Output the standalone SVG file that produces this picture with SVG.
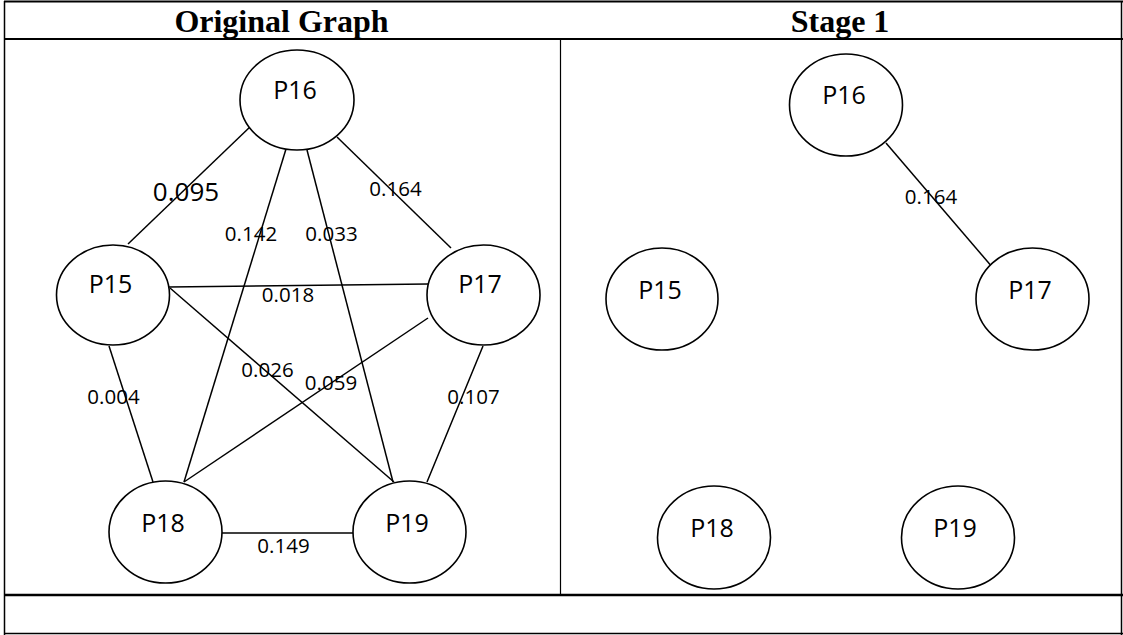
<svg xmlns="http://www.w3.org/2000/svg" width="1123" height="635" viewBox="0 0 1123 635">
<style>
.frame{fill:none;stroke:#000;}
.node ellipse{fill:#fff;stroke:#000;stroke-width:1.6;}
.node text{font-family:"Open Sans","Liberation Sans",sans-serif;font-size:25px;text-anchor:middle;fill:#000;}
.edges line{stroke:#000;stroke-width:1.5;}
.lbl{font-family:"Open Sans","Liberation Sans",sans-serif;font-size:20.5px;text-anchor:middle;fill:#000;}
.title{font-family:"Liberation Serif","Times New Roman",serif;font-weight:bold;font-size:32px;text-anchor:middle;fill:#000;}
</style>
<rect width="1123" height="635" fill="#fff"/>
<g id="table">
<line class="frame" x1="4.5" y1="1" x2="4.5" y2="635" stroke-width="1.5"/>
<line class="frame" x1="4" y1="1.5" x2="1123" y2="1.5" stroke-width="2"/>
<line class="frame" x1="4" y1="39" x2="1123" y2="39" stroke-width="2"/>
<line class="frame" x1="4" y1="595" x2="1123" y2="595" stroke-width="2.5"/>
<line class="frame" x1="4" y1="633.5" x2="1123" y2="633.5" stroke-width="1.5"/>
<line class="frame" x1="560.5" y1="39" x2="560.5" y2="595" stroke-width="1.2"/>
<line class="frame" x1="1121.5" y1="1" x2="1121.5" y2="635" stroke-width="1.5"/>
<text class="title" x="281.5" y="32">Original Graph</text>
<text class="title" x="840" y="32">Stage 1</text>
</g>
<g id="connectors" class="edges">
<line x1="252" y1="125" x2="128" y2="244"/>
<line x1="337" y1="137" x2="451" y2="248"/>
<line x1="286" y1="149" x2="184" y2="482"/>
<line x1="307" y1="150" x2="393" y2="482"/>
<line x1="169" y1="287" x2="428" y2="284"/>
<line x1="170" y1="288" x2="394" y2="482"/>
<line x1="428" y1="318" x2="184" y2="482"/>
<line x1="109" y1="346" x2="153" y2="482"/>
<line x1="483" y1="346" x2="427" y2="482"/>
<line x1="222" y1="533" x2="353" y2="533"/>
<line x1="886" y1="143" x2="999" y2="275"/>
</g>
<g id="edge-labels">
<text class="lbl" x="186" y="201" style="font-size:26px">0.095</text>
<text class="lbl" x="395.5" y="196">0.164</text>
<text class="lbl" x="251" y="241">0.142</text>
<text class="lbl" x="331.5" y="241">0.033</text>
<text class="lbl" x="288" y="302">0.018</text>
<text class="lbl" x="267.5" y="377">0.026</text>
<text class="lbl" x="331" y="390">0.059</text>
<text class="lbl" x="113.5" y="404">0.004</text>
<text class="lbl" x="473.5" y="404">0.107</text>
<text class="lbl" x="283.5" y="553">0.149</text>
<text class="lbl" x="931" y="204">0.164</text>
</g>
<g id="orig-P16" class="node"><ellipse cx="297" cy="100" rx="57" ry="50"/><text x="295" y="99">P16</text></g>
<g id="orig-P15" class="node"><ellipse cx="113" cy="295" rx="56.5" ry="50"/><text x="110.5" y="293">P15</text></g>
<g id="orig-P17" class="node"><ellipse cx="483.5" cy="295" rx="56.5" ry="50"/><text x="480" y="293">P17</text></g>
<g id="orig-P18" class="node"><ellipse cx="165.5" cy="532" rx="56.5" ry="51"/><text x="163" y="532">P18</text></g>
<g id="orig-P19" class="node"><ellipse cx="409.5" cy="532" rx="56.5" ry="51"/><text x="407" y="532">P19</text></g>
<g id="s1-P16" class="node"><ellipse cx="846" cy="105" rx="56.5" ry="51"/><text x="844" y="104">P16</text></g>
<g id="s1-P15" class="node"><ellipse cx="662" cy="299" rx="56" ry="51"/><text x="660" y="299">P15</text></g>
<g id="s1-P17" class="node"><ellipse cx="1032.5" cy="299" rx="56.5" ry="51"/><text x="1030" y="299">P17</text></g>
<g id="s1-P18" class="node"><ellipse cx="714" cy="537.5" rx="56.5" ry="51.5"/><text x="712" y="537">P18</text></g>
<g id="s1-P19" class="node"><ellipse cx="958" cy="537.5" rx="56.5" ry="51.5"/><text x="955" y="537">P19</text></g>
</svg>
